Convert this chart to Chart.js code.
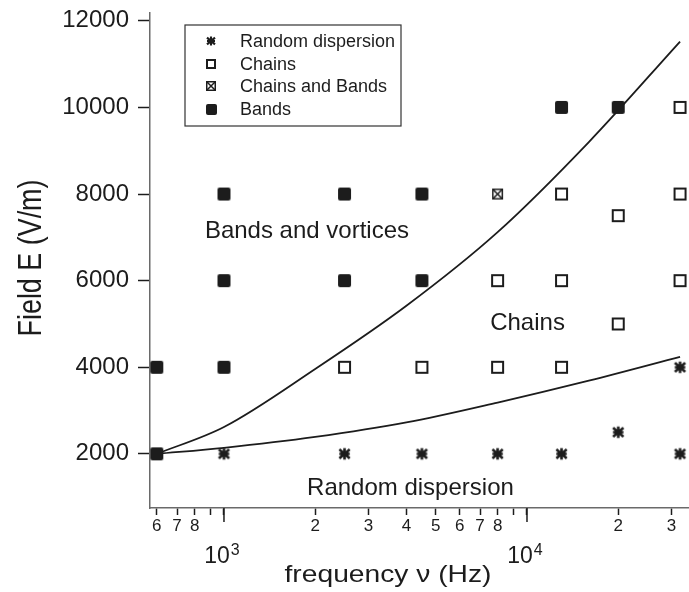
<!DOCTYPE html>
<html>
<head>
<meta charset="utf-8">
<script src="https://cdn.jsdelivr.net/npm/chart.js@4.4.1/dist/chart.umd.min.js"></script>
<style>
  html, body { margin: 0; padding: 0; background: #fff; }
  #wrap { width: 689px; height: 592px; }
</style>
</head>
<body>
<div id="wrap"><canvas id="myChart" width="689" height="592"></canvas></div>
<script>
// measured states, frequency (Hz) vs field (V/m)
const randomFreq = [1000, 2500, 4500, 8000, 13000, 20000, 32000, 32000];
const randomField = [2000, 2000, 2000, 2000, 2000, 2500, 2000, 4000];
const chainsFreq = [2500, 4500, 8000, 13000, 8000, 13000, 32000, 20000, 20000, 13000, 32000, 32000];
const chainsField = [4000, 4000, 4000, 4000, 6000, 6000, 6000, 5000, 7500, 8000, 8000, 10000];
const mixedFreq = [8000];
const mixedField = [8000];
const bandsFreq = [600, 600, 1000, 1000, 1000, 2500, 2500, 4500, 4500, 13000, 20000];
const bandsField = [2000, 4000, 4000, 6000, 8000, 6000, 8000, 6000, 8000, 10000, 10000];

// boundary curves
const upperFreq = [600, 1000, 2000, 4000, 8000, 16000, 32000];
const upperField = [2000, 2620, 3960, 5420, 7120, 9200, 11520];
const lowerFreq = [600, 1000, 2000, 4000, 8000, 16000, 32000];
const lowerField = [2000, 2140, 2390, 2725, 3185, 3690, 4240];

// axes
const xTickValues = [600, 700, 800, 900, 1000, 2000, 3000, 4000, 5000, 6000, 7000, 8000, 9000, 10000, 20000, 30000];
const xTickLabels = ['6', '7', '8', '', '', '2', '3', '4', '5', '6', '7', '8', '', '', '2', '3'];
const xDecades = [1000, 10000];
const xDecadeLabels = [['10', '3'], ['10', '4']];
const yTickValues = [2000, 4000, 6000, 8000, 10000, 12000];

// text in the plot
const regionLabels = ['Bands and vortices', 'Chains', 'Random dispersion'];
const regionFreq = [865, 7560, 1880];
const regionField = [6990, 4860, 1050];

const ink = '#1c1c1c';
const axisColor = '#6a6a6a';
const family = '"Liberation Sans", Arial, Helvetica, sans-serif';

function markerCanvas(kind, size) {
  const pad = 2;
  const c = document.createElement('canvas');
  c.width = c.height = Math.ceil(size + pad * 2);
  const g = c.getContext('2d');
  const m = c.width / 2, h = size / 2;
  g.strokeStyle = ink;
  g.fillStyle = ink;
  if (kind === 'asterisk') {
    g.lineWidth = size > 11 ? 2.6 : 2.1;
    g.beginPath();
    g.moveTo(m, m - h * 0.9); g.lineTo(m, m + h * 0.9);
    g.moveTo(m - h * 0.8, m); g.lineTo(m + h * 0.8, m);
    const dx = h * 0.8, dy = h * 0.68;
    g.moveTo(m - dx, m - dy); g.lineTo(m + dx, m + dy);
    g.moveTo(m + dx, m - dy); g.lineTo(m - dx, m + dy);
    g.stroke();
  } else if (kind === 'open') {
    g.lineWidth = 2;
    g.strokeRect(m - h + 1, m - h + 1, size - 2, size - 2);
  } else if (kind === 'crossed') {
    g.lineWidth = 1.5;
    g.strokeRect(m - h + 0.75, m - h + 0.75, size - 1.5, size - 1.5);
    g.beginPath();
    g.moveTo(m - h + 1, m - h + 1); g.lineTo(m + h - 1, m + h - 1);
    g.moveTo(m + h - 1, m - h + 1); g.lineTo(m - h + 1, m + h - 1);
    g.stroke();
  } else {
    g.beginPath();
    g.roundRect(m - h, m - h, size, size, 2);
    g.fill();
  }
  return c;
}

const toPts = (xs, ys) => xs.map((x, i) => ({ x: x, y: ys[i] }));

const series = [
  { label: 'Random dispersion', freq: randomFreq, field: randomField, kind: 'asterisk', size: 13, legendSize: 10 },
  { label: 'Chains', freq: chainsFreq, field: chainsField, kind: 'open', size: 13, legendSize: 10 },
  { label: 'Chains and Bands', freq: mixedFreq, field: mixedField, kind: 'crossed', size: 11, legendSize: 10 },
  { label: 'Bands', freq: bandsFreq, field: bandsField, kind: 'filled', size: 13, legendSize: 11 }
];
series.forEach(s => {
  s.style = markerCanvas(s.kind, s.size);
  s.legendStyle = markerCanvas(s.kind, s.legendSize);
});

const datasets = series.map(s => ({
  label: s.label,
  data: toPts(s.freq, s.field),
  showLine: false,
  pointStyle: s.style,
  pointRadius: 7,
  order: 0
}));
[[upperFreq, upperField], [lowerFreq, lowerField]].forEach(([f, e]) => {
  datasets.push({
    label: '',
    data: toPts(f, e),
    showLine: true,
    pointRadius: 0,
    borderColor: ink,
    borderWidth: 1.8,
    cubicInterpolationMode: 'monotone',
    order: 1
  });
});

function stretchedText(ctx, text, cx, cy, px, length, rotate) {
  ctx.save();
  ctx.translate(cx, cy);
  if (rotate) ctx.rotate(-Math.PI / 2);
  ctx.font = px + 'px ' + family;
  const w = ctx.measureText(text).width;
  ctx.scale(length / w, 1);
  ctx.textAlign = 'center';
  ctx.textBaseline = 'alphabetic';
  ctx.fillText(text, 0, 0);
  ctx.restore();
}

const overlay = {
  id: 'overlay',
  afterDraw(chart) {
    const { ctx, chartArea: a, scales: { x, y } } = chart;
    ctx.save();
    ctx.fillStyle = ink;
    ctx.strokeStyle = ink;

    // decade ticks and labels
    xDecades.forEach((v, i) => {
      const px = x.getPixelForValue(v);
      ctx.lineWidth = 1.5;
      ctx.beginPath();
      ctx.moveTo(px, a.bottom);
      ctx.lineTo(px, a.bottom + 14);
      ctx.stroke();
      const [base, exp] = xDecadeLabels[i];
      ctx.font = '23px ' + family;
      const bw = ctx.measureText(base).width;
      ctx.font = '16px ' + family;
      const ew = ctx.measureText(exp).width;
      const left = px - 2 - (bw + ew + 1) / 2;
      ctx.textAlign = 'left';
      ctx.textBaseline = 'alphabetic';
      ctx.font = '23px ' + family;
      ctx.fillText(base, left, a.bottom + 55);
      ctx.font = '16px ' + family;
      ctx.fillText(exp, left + bw + 1, a.bottom + 47);
    });

    // axis titles
    stretchedText(ctx, 'frequency \u03bd (Hz)', 388, 582, 24, 207, false);
    stretchedText(ctx, 'Field E (V/m)', 41, 258, 33, 157, true);

    // region labels
    ctx.font = '24px ' + family;
    ctx.textAlign = 'left';
    ctx.textBaseline = 'alphabetic';
    regionLabels.forEach((t, i) => {
      ctx.fillText(t, x.getPixelForValue(regionFreq[i]), y.getPixelForValue(regionField[i]));
    });

    // legend box
    const bx = a.left + 35, by = a.top + 12, bw = 216, bh = 101;
    ctx.fillStyle = '#fff';
    ctx.fillRect(bx, by, bw, bh);
    ctx.strokeStyle = '#333';
    ctx.lineWidth = 1.2;
    ctx.strokeRect(bx, by, bw, bh);
    ctx.fillStyle = ink;
    ctx.font = '18px ' + family;
    ctx.textBaseline = 'middle';
    series.forEach((s, i) => {
      const cy = by + 16 + i * 22.7;
      const img = s.legendStyle;
      ctx.drawImage(img, Math.round(bx + 26 - img.width / 2), Math.round(cy - img.height / 2));
      ctx.fillText(s.label, bx + 55, cy + 1);
    });
    ctx.restore();
  }
};

new Chart(document.getElementById('myChart'), {
  type: 'scatter',
  data: { datasets: datasets },
  options: {
    responsive: false,
    animation: false,
    layout: { autoPadding: false, padding: { top: 13, right: 0, left: 0, bottom: 0 } },
    plugins: { legend: { display: false }, tooltip: { enabled: false } },
    scales: {
      x: {
        type: 'logarithmic',
        min: 570,
        max: 34250,
        afterBuildTicks: s => { s.ticks = xTickValues.map(v => ({ value: v })); },
        afterFit: s => { s.height = 84; s.paddingLeft = 0; s.paddingRight = 0; },
        border: { color: axisColor, width: 1.5 },
        grid: { drawOnChartArea: false, tickLength: 7, tickColor: ink, tickWidth: 1.5 },
        ticks: {
          autoSkip: false,
          maxRotation: 0,
          padding: 3,
          color: ink,
          font: { family: family, size: 17, lineHeight: 1 },
          callback: (v, i) => xTickLabels[i]
        }
      },
      y: {
        min: 750,
        max: 12180,
        afterBuildTicks: s => { s.ticks = yTickValues.map(v => ({ value: v })); },
        afterFit: s => { s.width = 150; s.paddingTop = 0; s.paddingBottom = 0; },
        border: { color: axisColor, width: 1.5 },
        grid: { drawOnChartArea: false, tickLength: 12, tickColor: ink, tickWidth: 1.5 },
        ticks: {
          padding: 9,
          color: ink,
          font: { family: family, size: 24, lineHeight: 1 },
          callback: v => String(v)
        }
      }
    }
  },
  plugins: [overlay]
});
</script>
</body>
</html>
